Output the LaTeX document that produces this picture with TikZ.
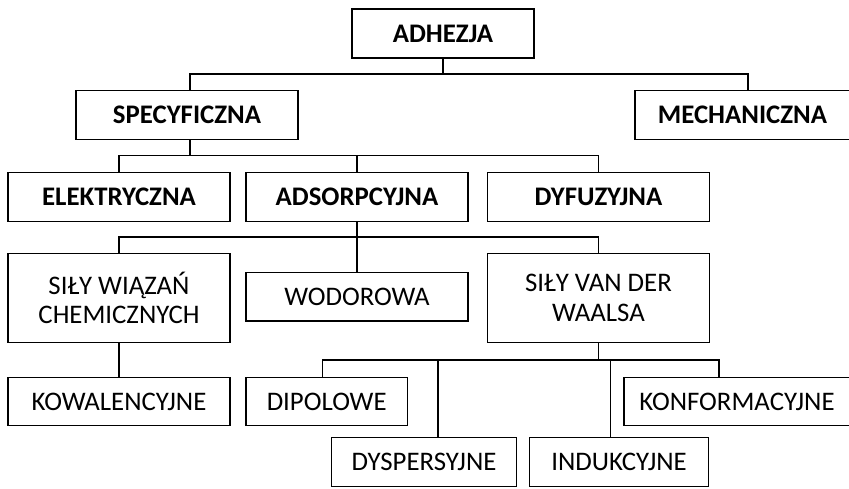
\documentclass[tikz,border=0pt]{standalone}
\usepackage{fontspec}
\setmainfont{Carlito}
\usetikzlibrary{calc}

\begin{document}
\begin{tikzpicture}[x=1pt,y=-1pt,
  box/.style={draw,line width=1.3pt,inner sep=0pt,align=center,font=\fontsize{26.8}{29.7}\selectfont},
  bbox/.style={box,font=\fontsize{26.8}{29.7}\selectfont\bfseries},
  conn/.style={line width=1.3pt}]
\useasboundingbox (0,0) rectangle (849,488);
\node[bbox,minimum width=182pt,minimum height=49pt] (adhezja) at (443,33.5) {ADHEZJA};
\node[bbox,minimum width=222pt,minimum height=48.5pt] (spec) at (187,115) {SPECYFICZNA};
\node[bbox,minimum width=215pt,minimum height=48.5pt] (mech) at (742.5,115) {MECHANICZNA};
\node[bbox,minimum width=222pt,minimum height=48.5pt] (elek) at (119,197) {ELEKTRYCZNA};
\node[bbox,minimum width=222pt,minimum height=48.5pt] (adsorp) at (357,197) {ADSORPCYJNA};
\node[bbox,minimum width=222pt,minimum height=48.5pt] (dyf) at (598.5,197) {DYFUZYJNA};
\node[box,minimum width=222pt,minimum height=89.4pt] (silyw) at (119,298) {SIŁY WIĄZAŃ\\CHEMICZNYCH};
\node[box,minimum width=222pt,minimum height=48.7pt] (wodor) at (357,296.7) {WODOROWA};
\node[box,minimum width=222pt,minimum height=89.4pt] (vdw) at (598.5,298) {SIŁY VAN DER\\WAALSA};
\node[box,minimum width=222pt,minimum height=48.4pt] (kowal) at (119,401.5) {KOWALENCYJNE};
\node[box,minimum width=161.3pt,minimum height=48.4pt] (dipol) at (326.7,401.5) {DIPOLOWE};
\node[box,minimum width=226pt,minimum height=48.4pt] (konf) at (737,401.5) {KONFORMACYJNE};
\node[box,minimum width=184.6pt,minimum height=49.4pt] (dysp) at (424,462) {DYSPERSYJNE};
\node[box,minimum width=178.6pt,minimum height=49.4pt] (induk) at (619,462) {INDUKCYJNE};

\draw[conn] (adhezja.south) -- ++(0,15.3) coordinate (abar);
\draw[conn] (abar) -| ([xshift=3pt]spec.north);
\draw[conn] (abar) -| ([xshift=5.5pt]mech.north);

\draw[conn] ([xshift=3pt]spec.south) -- ++(0,15.3) coordinate (sbar);
\foreach \n in {elek,adsorp,dyf}
 \draw[conn] (sbar) -| (\n.north);

\draw[conn] (adsorp.south) -- ++(0,15) coordinate (dbar);
\foreach \n in {silyw,wodor,vdw}
 \draw[conn] (dbar) -| (\n.north);

\draw[conn] (silyw.south) -- (kowal.north);

\draw[conn] (vdw.south) -- ++(0,16.6) coordinate (vbar);
\foreach \n/\s in {dipol/-4,dysp/14,induk/-8.3,konf/-18}
 \draw[conn] (vbar) -| ([xshift=\s pt]\n.north);
\end{tikzpicture}
\end{document}
